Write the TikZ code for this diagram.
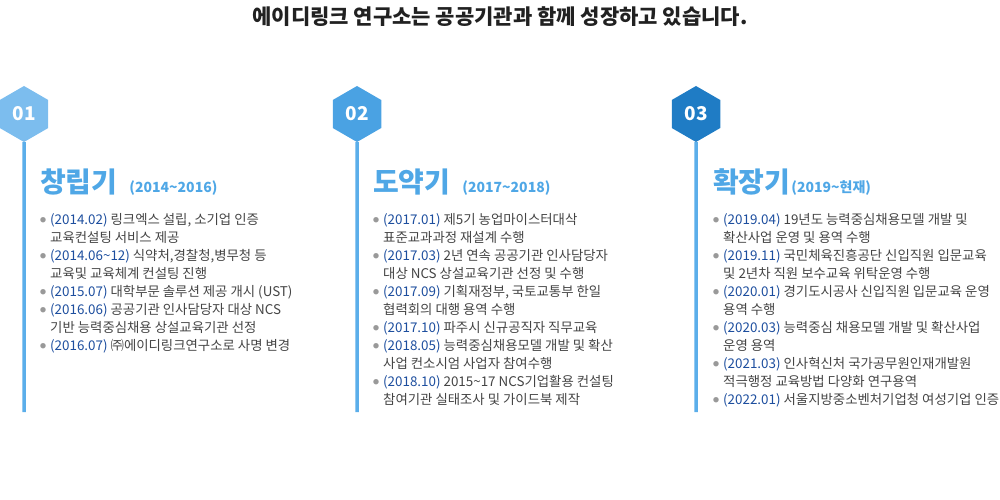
\documentclass[tikz,border=0pt]{standalone}
\usepackage{fontspec}
\setmainfont{Noto Sans CJK KR}
\usetikzlibrary{positioning,shapes.geometric}
\definecolor{hexone}{HTML}{7CBDEE}
\definecolor{hextwo}{HTML}{4AA2E3}
\definecolor{hexthree}{HTML}{1F7CC5}
\definecolor{lineclr}{HTML}{5BAEEA}
\definecolor{headclr}{HTML}{4FA7E6}
\definecolor{dateclr}{HTML}{1D4E9E}
\definecolor{txtclr}{HTML}{444444}
\definecolor{dotclr}{HTML}{999999}
\newcommand\yr[1]{\textcolor{dateclr}{#1}}
\newcommand\bul{\makebox[10pt][l]{\textcolor{dotclr}{\raisebox{1.6pt}{\fontsize{6}{6}\selectfont ●}}}}
\newcommand\ind{\hspace*{10pt}}
\newcommand\tild{\textasciitilde}
\tikzset{
  hexa/.style={regular polygon,regular polygon sides=6,shape border rotate=30,
               minimum size=56pt,inner sep=0pt,text=white,
               font=\fontsize{19}{19}\selectfont\bfseries},
  tline/.style={line width=3.5pt,draw=lineclr},
  period/.style={anchor=base west,inner sep=0pt,text=headclr,font=\bfseries},
  items/.style={anchor=north west,inner sep=0pt,align=left,text=txtclr,
                font=\fontsize{13.4}{18}\selectfont},
}
\begin{document}
\begin{tikzpicture}[x=1pt,y=-1pt]
\useasboundingbox (0,0) rectangle (1000,500);

\node[font=\fontsize{21}{21}\selectfont\bfseries, text=black!87] (title) at (500,17)
  {에이디링크 연구소는 공공기관과 함께 성장하고 있습니다.};

% time lines
\coordinate (e1) at (24,412);
\coordinate (e2) at (357,412);
\coordinate (e3) at (696,412);
\node[hexa,fill=hexone] (h1) at (24,114) {01};
\node[hexa,fill=hextwo] (h2) at (357,114) {02};
\node[hexa,fill=hexthree] (h3) at (696,114) {03};
\draw[tline] (h1.south) -- (e1);
\draw[tline] (h2.south) -- (e2);
\draw[tline] (h3.south) -- (e3);

% period headings
\node[period] (p1) at (40,192)
  {{\fontsize{28}{28}\selectfont 창립기}\hspace{12pt}{\fontsize{14}{14}\selectfont (2014\tild{}2016)}};
\node[period] (p2) at (373,192)
  {{\fontsize{28}{28}\selectfont 도약기}\hspace{12pt}{\fontsize{14}{14}\selectfont (2017\tild{}2018)}};
\node[period] (p3) at (713,192)
  {{\fontsize{28}{28}\selectfont 확장기}\hspace{1pt}{\fontsize{14}{14}\selectfont (2019\tild{}현재)}};

% histories
\node[items] (l1) at (40,213) {%
\bul\yr{(2014.02)} 링크엑스 설립, 소기업 인증\\
\ind 교육컨설팅 서비스 제공\\
\bul\yr{(2014.06\tild{}12)} 식약처,경찰청,병무청 등\\
\ind 교육및 교육체계 컨설팅 진행\\
\bul\yr{(2015.07)} 대학부문 솔루션 제공 개시 (UST)\\
\bul\yr{(2016.06)} 공공기관 인사담당자 대상 NCS\\
\ind 기반 능력중심채용 상설교육기관 선정\\
\bul\yr{(2016.07)} ㈜에이디링크연구소로 사명 변경};

\node[items] (l2) at (373,213) {%
\bul\yr{(2017.01)} 제5기 농업마이스터대삭\\
\ind 표준교과과정 재설계 수행\\
\bul\yr{(2017.03)} 2년 연속 공공기관 인사담당자\\
\ind 대상 NCS 상설교육기관 선정 및 수행\\
\bul\yr{(2017.09)} 기획재정부, 국토교통부 한일\\
\ind 협력회의 대행 용역 수행\\
\bul\yr{(2017.10)} 파주시 신규공직자 직무교육\\
\bul\yr{(2018.05)} 능력중심채용모델 개발 및 확산\\
\ind 사업 컨소시엄 사업자 참여수행\\
\bul\yr{(2018.10)} 2015\tild{}17 NCS기업활용 컨설팅\\
\ind 참여기관 실태조사 및 가이드북 제작};

\node[items] (l3) at (713,213) {%
\bul\yr{(2019.04)} 19년도 능력중심채용모델 개발 및\\
\ind 확산사업 운영 및 용역 수행\\
\bul\yr{(2019.11)} 국민체육진흥공단 신입직원 입문교육\\
\ind 및 2년차 직원 보수교육 위탁운영 수행\\
\bul\yr{(2020.01)} 경기도시공사 신입직원 입문교육 운영\\
\ind 용역 수행\\
\bul\yr{(2020.03)} 능력중심 채용모델 개발 및 확산사업\\
\ind 운영 용역\\
\bul\yr{(2021.03)} 인사혁신처 국가공무원인재개발원\\
\ind 적극행정 교육방법 다양화 연구용역\\
\bul\yr{(2022.01)} 서울지방중소벤처기업청 여성기업 인증};
\end{tikzpicture}
\end{document}
